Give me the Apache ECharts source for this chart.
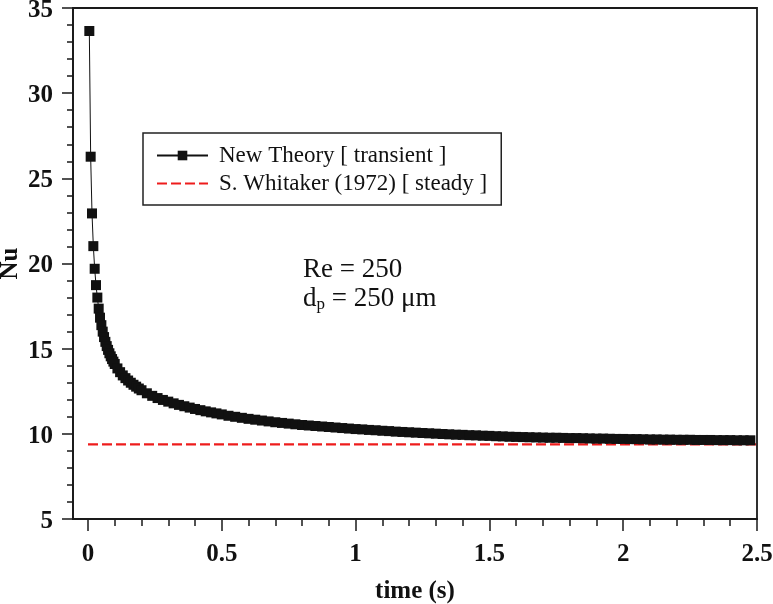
<!DOCTYPE html>
<html>
<head>
<meta charset="utf-8">
<script src="https://cdn.jsdelivr.net/npm/echarts@6/dist/echarts.min.js"></script>
<style>
html,body{margin:0;padding:0;background:#fff;}
#chart{width:773px;height:604px;}
</style>
</head>
<body>
<div id="chart"></div>
<script>
// time (s)
var timeValues = [
  0.005,0.010,0.015,0.020,0.025,0.030,0.035,0.040,0.045,0.050,
  0.055,0.060,0.065,0.070,0.075,0.080,0.085,0.090,0.095,0.100,
  0.11,0.12,0.13,0.14,0.15,0.16,0.17,0.18,0.19,0.20,
  0.22,0.24,0.26,0.28,0.30,0.32,0.34,0.36,0.38,0.40,0.42,0.44,0.46,0.48,0.50,
  0.525,0.55,0.575,0.60,0.625,0.65,0.675,0.70,0.725,0.75,0.775,0.80,0.825,0.85,0.875,0.90,0.925,0.95,0.975,1.00,
  1.025,1.05,1.075,1.10,1.125,1.15,1.175,1.20,1.225,1.25,1.275,1.30,1.325,1.35,1.375,1.40,1.425,1.45,1.475,1.50,
  1.525,1.55,1.575,1.60,1.625,1.65,1.675,1.70,1.725,1.75,1.775,1.80,1.825,1.85,1.875,1.90,1.925,1.95,1.975,2.00,
  2.025,2.05,2.075,2.10,2.125,2.15,2.175,2.20,2.225,2.25,2.275,2.30,2.325,2.35,2.375,2.40,2.425,2.45,2.475
];
// Nu, new theory (transient)
var nuTransient = [
  33.65,26.27,22.94,21.02,19.69,18.73,18.00,17.35,16.82,16.38,
  16.00,15.68,15.40,15.15,14.93,14.73,14.55,14.39,14.24,14.10,
  13.84,13.62,13.43,13.27,13.13,13.00,12.88,12.77,12.66,12.56,
  12.38,12.23,12.10,11.99,11.89,11.79,11.70,11.62,11.54,11.46,11.39,11.32,11.26,11.20,11.14,
  11.06,11.00,10.94,10.88,10.83,10.78,10.73,10.68,10.64,10.60,10.56,10.52,10.49,10.46,10.43,10.40,10.37,10.34,10.31,10.28,
  10.26,10.23,10.21,10.18,10.16,10.13,10.11,10.09,10.07,10.05,10.03,10.01,9.99,9.97,9.95,9.94,9.92,9.91,9.89,9.88,
  9.86,9.85,9.83,9.82,9.81,9.80,9.79,9.78,9.77,9.77,9.76,9.75,9.75,9.74,9.73,9.72,9.72,9.71,9.70,9.70,
  9.69,9.69,9.68,9.67,9.67,9.66,9.66,9.65,9.65,9.65,9.64,9.64,9.64,9.63,9.63,9.63,9.62,9.62,9.62
];
// S. Whitaker (1972), steady
var steadyTime = [0, 2.5];
var nuSteady = [9.38, 9.38];

var xMajorTicks = [0, 0.5, 1, 1.5, 2, 2.5];
var xMinorTicks = [0.1,0.2,0.3,0.4,0.6,0.7,0.8,0.9,1.1,1.2,1.3,1.4,1.6,1.7,1.8,1.9,2.1,2.2,2.3,2.4];
var seriesNames = ['New Theory [ transient ]', 'S. Whitaker (1972) [ steady ]'];

var serif = "'Liberation Serif','Times New Roman',serif";
var axisColor = '#1a1a1a';

var transientData = timeValues.map(function (t, i) { return [t, nuTransient[i]]; });
var steadyData = steadyTime.map(function (t, i) { return [t, nuSteady[i]]; });

var chart = echarts.init(document.getElementById('chart'), null, {renderer: 'canvas'});
chart.setOption({
  animation: false,
  backgroundColor: '#fff',
  grid: {left: 73, right: 16, top: 8, bottom: 85, outerBoundsMode: 'none', containLabel: false,
         show: true, borderColor: axisColor, borderWidth: 1.8, backgroundColor: 'transparent'},
  legend: {
    left: 143, top: 133, orient: 'vertical',
    data: seriesNames,
    borderColor: '#222', borderWidth: 1.5, padding: [11, 14, 10, 13],
    itemWidth: 51, itemHeight: 12, itemGap: 5,
    textStyle: {fontFamily: serif, fontSize: 23, color: '#111', lineHeight: 23, padding: [0, 0, 0, 6]},
    selectedMode: false
  },
  xAxis: [{
    type: 'value', min: -0.056, max: 2.5, position: 'bottom',
    name: 'time (s)', nameLocation: 'middle', nameGap: 60,
    nameTextStyle: {fontFamily: serif, fontSize: 25, fontWeight: 'bold', color: '#111'},
    axisLine: {show: true, onZero: false, lineStyle: {color: axisColor, width: 1.8}},
    axisTick: {show: true, customValues: xMajorTicks, length: 12, lineStyle: {color: axisColor, width: 1.5}},
    axisLabel: {show: true, customValues: xMajorTicks, margin: 23, fontFamily: serif, fontSize: 25, fontWeight: 'bold', color: '#111'},
    splitLine: {show: false}
  }, {
    type: 'value', min: -0.056, max: 2.5, position: 'bottom',
    axisLine: {show: false, onZero: false},
    axisTick: {show: true, customValues: xMinorTicks, length: 7, lineStyle: {color: axisColor, width: 1.5}},
    axisLabel: {show: false},
    splitLine: {show: false}
  }],
  yAxis: {
    type: 'value', min: 5, max: 35, interval: 5,
    name: 'Nu', nameLocation: 'middle', nameGap: 50, nameMoveOverlap: false,
    nameTextStyle: {fontFamily: serif, fontSize: 25, fontWeight: 'bold', color: '#111'},
    axisLine: {show: true, onZero: false, lineStyle: {color: axisColor, width: 1.8}},
    axisTick: {show: true, length: 11, lineStyle: {color: axisColor, width: 1.5}},
    minorTick: {show: true, splitNumber: 5, length: 6, lineStyle: {color: axisColor, width: 1.5}},
    axisLabel: {
      margin: 20, formatter: '{v|{value}}',
      rich: {v: {fontFamily: serif, fontSize: 25, fontWeight: 'bold', color: '#111', padding: [5, 0, 0, 0]}}
    },
    splitLine: {show: false}
  },
  series: [{
    name: seriesNames[0], type: 'line', xAxisIndex: 0,
    data: transientData,
    symbol: 'rect', symbolSize: 10, showSymbol: true,
    itemStyle: {color: '#111'},
    lineStyle: {color: '#111', width: 1},
    z: 3
  }, {
    name: seriesNames[1], type: 'line', xAxisIndex: 0,
    data: steadyData,
    symbol: 'none',
    itemStyle: {color: 'transparent', borderColor: 'transparent'},
    lineStyle: {color: '#ee1c1c', width: 2.4, type: [10, 4]},
    z: 2
  }],
  graphic: [{
    type: 'text', left: 303, top: 256,
    style: {text: 'Re = 250', fontFamily: serif, fontSize: 27, fill: '#111'}
  }, {
    type: 'text', left: 303, top: 285,
    style: {
      text: 'd{sub|p} = 250 μm', fontFamily: serif, fontSize: 27, fill: '#111',
      rich: {sub: {fontFamily: serif, fontSize: 17, fill: '#111', verticalAlign: 'bottom', padding: [12, 0, 0, 0]}}
    }
  }]
});
</script>
</body>
</html>
